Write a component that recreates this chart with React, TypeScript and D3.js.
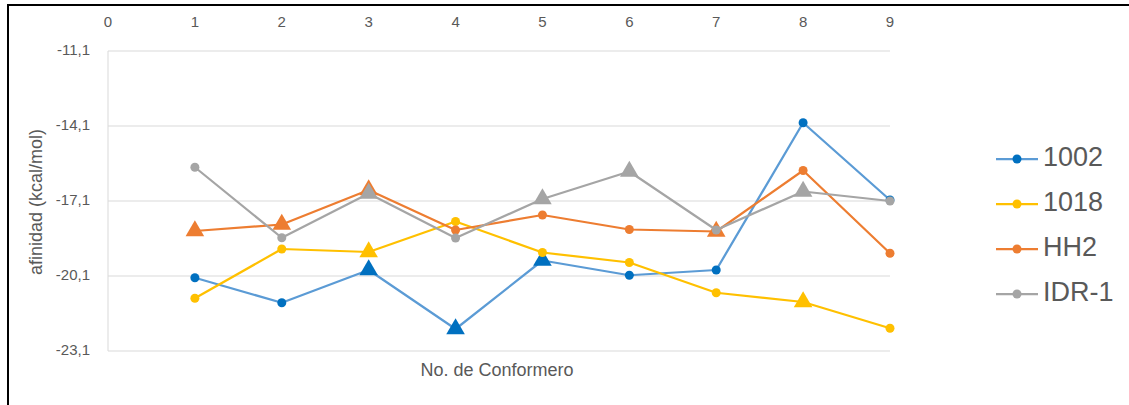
import React from 'react';
import * as d3 from 'd3';

// conformer numbers (x) and affinity per ligand
const conformers = [1, 2, 3, 4, 5, 6, 7, 8, 9];
const xTicks = [0, 1, 2, 3, 4, 5, 6, 7, 8, 9];
const yTicks = [-11.1, -14.1, -17.1, -20.1, -23.1];

const names = ['1002', '1018', 'HH2', 'IDR-1'];
const v1002 = [-20.17, -21.17, -19.86, -22.22, -19.48, -20.07, -19.86, -13.97, -17.06];
const v1018 = [-20.99, -19.02, -19.14, -17.92, -19.16, -19.56, -20.77, -21.14, -22.19];
const vHH2 = [-18.3, -18.04, -16.66, -18.26, -17.66, -18.24, -18.32, -15.88, -19.19];
const vIDR1 = [-15.75, -18.57, -16.8, -18.58, -17.02, -15.92, -18.26, -16.72, -17.1];
// which points are drawn as triangles
const tri1002 = [false, false, true, true, true, false, false, false, false];
const tri1018 = [false, false, true, false, false, false, false, true, false];
const triHH2 = [true, true, true, false, false, false, true, false, false];
const triIDR1 = [false, false, true, false, true, true, false, true, false];

const lineColors = ['#5B9BD5', '#FFC000', '#ED7D31', '#A5A5A5'];
const markColors = ['#0070C0', '#FFC000', '#ED7D31', '#A5A5A5'];

const W = 1129, H = 405;
const font = '"Liberation Sans", Arial, sans-serif';

export default function App() {
  const x = d3.scaleLinear().domain([0, 9]).range([108, 890]);
  const y = d3.scaleLinear().domain([-23.1, -11.1]).range([351, 51]);

  const series = [v1002, v1018, vHH2, vIDR1];
  const tris = [tri1002, tri1018, triHH2, triIDR1];

  const line = d3.line<number>()
    .x((d, i) => x(conformers[i]))
    .y(d => y(d));

  const triangle = d3.symbol().type(d3.symbolTriangle).size(150)();
  const fmt = (v: number) => v.toFixed(1).replace('.', ',');

  return (
    <svg width={W} height={H} style={{ position: 'absolute', left: 0, top: 0, background: '#fff' }}>
      <rect x={0} y={0} width={W} height={H} fill="#fff" />
      {/* frame */}
      <line x1={7} y1={5} x2={W} y2={5} stroke="#000" strokeWidth={2} />
      <line x1={8} y1={4} x2={8} y2={H} stroke="#000" strokeWidth={2} />

      {/* grid */}
      {yTicks.map(t => (
        <line key={t} x1={108} x2={890} y1={y(t)} y2={y(t)} stroke="#D9D9D9" strokeWidth={1} />
      ))}
      <line x1={108} x2={108} y1={y(-11.1)} y2={y(-23.1)} stroke="#D9D9D9" strokeWidth={1} />

      {/* y tick labels */}
      {yTicks.map(t => (
        <text key={t} x={90} y={y(t)} textAnchor="end" dominantBaseline="middle"
          fontFamily={font} fontSize={15} fill="#595959">{fmt(t)}</text>
      ))}
      {/* x tick labels on top */}
      {xTicks.map(t => (
        <text key={t} x={x(t)} y={23} textAnchor="middle" dominantBaseline="middle"
          fontFamily={font} fontSize={15} fill="#595959">{t}</text>
      ))}

      {/* axis titles */}
      <text transform="translate(37,202) rotate(-90)" textAnchor="middle" dominantBaseline="middle"
        fontFamily={font} fontSize={18} fill="#595959">afinidad (kcal/mol)</text>
      <text x={497} y={371} textAnchor="middle" dominantBaseline="middle"
        fontFamily={font} fontSize={18} fill="#595959">No. de Conformero</text>

      {/* series */}
      {series.map((s, k) => (
        <g key={names[k]}>
          <path d={line(s) || ''} fill="none" stroke={lineColors[k]} strokeWidth={2.25} strokeLinejoin="round" />
          {s.map((v, i) => tris[k][i] ? (
            <path key={i} d={triangle || ''} transform={`translate(${x(conformers[i])},${y(v)})`} fill={markColors[k]} />
          ) : (
            <circle key={i} cx={x(conformers[i])} cy={y(v)} r={4.5} fill={markColors[k]} />
          ))}
        </g>
      ))}

      {/* legend */}
      {names.map((n, k) => {
        const ly = 159 + k * 45;
        return (
          <g key={n}>
            <line x1={996} x2={1038} y1={ly} y2={ly} stroke={lineColors[k]} strokeWidth={2.25} />
            <circle cx={1017} cy={ly} r={4.5} fill={markColors[k]} />
            <text x={1043} y={ly} dominantBaseline="middle" fontFamily={font} fontSize={27} fill="#595959">{n}</text>
          </g>
        );
      })}
    </svg>
  );
}
